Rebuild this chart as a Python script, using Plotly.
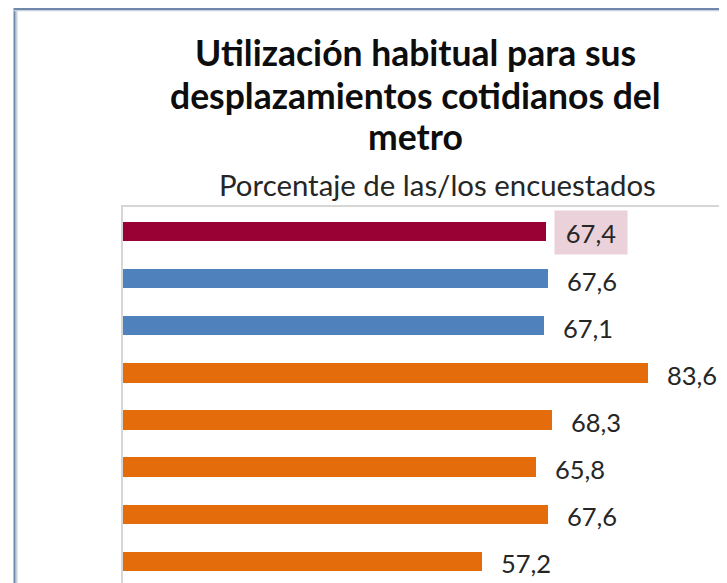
import plotly.graph_objects as go

categories = ["Total", "Hombres", "Mujeres", "18-24 años", "25-34 años",
              "35-44 años", "45-54 años", "55-64 años"]
values = [67.4, 67.6, 67.1, 83.6, 68.3, 65.8, 67.6, 57.2]
value_labels = ["67,4", "67,6", "67,1", "83,6", "68,3", "65,8", "67,6", "57,2"]
colors = ["#990033", "#4f81bd", "#4f81bd", "#e46c0a", "#e46c0a",
          "#e46c0a", "#e46c0a", "#e46c0a"]

title_lines = ["Utilización habitual para sus",
               "desplazamientos cotidianos del",
               "metro"]
subtitle = "Porcentaje de las/los encuestados"

OFF = 8  # page body margin of the html page
W, H = 727 - OFF, 583 - OFF
ML, MT = 123 - OFF, 207 - OFF
PW, PH = W - ML, H - MT


def px_x(p):
    return (p - OFF - ML) / PW


def px_y(p):
    return (H - (p - OFF)) / PH


idx = list(range(len(categories)))

fig = go.Figure()
fig.add_trace(go.Bar(
    y=idx, x=values, orientation="h",
    marker=dict(color=colors, line=dict(width=0)),
    width=0.41, hoverinfo="skip", showlegend=False,
))

annotations = []
for i, (v, lab) in enumerate(zip(values, value_labels)):
    if i == 0:
        annotations.append(dict(
            x=v, y=i, xref="x", yref="y", text=lab, showarrow=False,
            xanchor="left", yanchor="middle", xshift=8, yshift=-1,
            width=72, height=43, bgcolor="#ebd1d9", borderpad=0,
            align="center",
            font=dict(family="Lato", size=25.5, color="#262626"),
        ))
    else:
        annotations.append(dict(
            x=v, y=i, xref="x", yref="y", text=lab, showarrow=False,
            xanchor="left", yanchor="middle", xshift=18, yshift=-2,
            borderpad=0,
            font=dict(family="Lato", size=25.5, color="#262626"),
        ))

title_centers = [52, 95, 136.5]
for line, cy in zip(title_lines, title_centers):
    annotations.append(dict(
        x=px_x(415), y=px_y(cy), xref="paper", yref="paper",
        text="<b>" + line + "</b>", showarrow=False,
        xanchor="center", yanchor="middle",
        font=dict(family="Lato", size=35.5, color="#0d0d0d"),
    ))
annotations.append(dict(
    x=px_x(437.5), y=px_y(185), xref="paper", yref="paper",
    text=subtitle, showarrow=False, xanchor="center", yanchor="middle",
    font=dict(family="Lato", size=29.4, color="#262626"),
))

shapes = [
    # outer frame (left & top), with soft shadow
    dict(type="line", xref="paper", yref="paper",
         x0=px_x(16.5), x1=px_x(16.5), y0=px_y(10), y1=px_y(600),
         line=dict(color="#c9d1de", width=2)),
    dict(type="line", xref="paper", yref="paper",
         x0=px_x(14.5), x1=px_x(14.5), y0=px_y(8), y1=px_y(600),
         line=dict(color="#6f87ab", width=2)),
    dict(type="line", xref="paper", yref="paper",
         x0=px_x(14), x1=px_x(740), y0=px_y(10.5), y1=px_y(10.5),
         line=dict(color="#c9d1de", width=1.5)),
    dict(type="line", xref="paper", yref="paper",
         x0=px_x(14), x1=px_x(740), y0=px_y(9), y1=px_y(9),
         line=dict(color="#6f87ab", width=2)),
]

fig.update_layout(
    width=W, height=H,
    margin=dict(l=ML, r=0, t=MT, b=0, pad=0),
    paper_bgcolor="#ffffff", plot_bgcolor="#ffffff",
    bargap=0,
    xaxis=dict(range=[0, PW / 6.28], showgrid=False, zeroline=False,
               showticklabels=False, ticks="", side="top",
               showline=True, linecolor="#d6d6d6", linewidth=2),
    yaxis=dict(range=[7.46, -0.52], showgrid=False, zeroline=False,
               tickvals=idx, ticktext=categories, showticklabels=False,
               ticks="", showline=True, linecolor="#d6d6d6", linewidth=2),
    annotations=annotations,
    shapes=shapes,
)

fig.write_html("out.html")
